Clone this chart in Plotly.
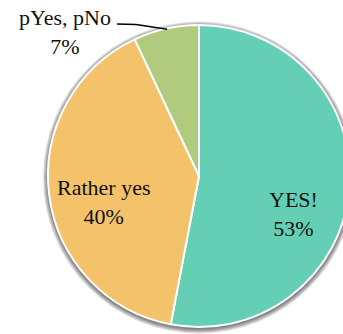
import math
import plotly.graph_objects as go

# Survey answers and their shares (%)
labels = ["YES!", "Rather yes", "pYes, pNo"]
values = [53, 40, 7]
colors = ["#65CFB6", "#F3C26A", "#B0CB7E"]

W, H = 360, 334
# pie geometry in pixels (centre and radius)
cx, cy, r = 199, 176, 151

total = sum(values)
pct = [round(v * 100 / total) for v in values]


def domain(xc, yc, rad):
    return dict(
        x=[max(0, (xc - rad) / W), min(1, (xc + rad) / W)],
        y=[max(0, 1 - (yc + rad) / H), min(1, 1 - (yc - rad) / H)],
    )


fig = go.Figure()

# soft shadow: a few translucent discs stacked under the pie
for k in range(1, 6):
    fig.add_trace(
        go.Pie(
            labels=["shadow"],
            values=[total],
            sort=False,
            textinfo="none",
            hoverinfo="skip",
            showlegend=False,
            opacity=0.12,
            marker=dict(colors=["#000000"], line=dict(width=0)),
            domain=domain(cx, cy + 1.5, r + k),
        )
    )

fig.add_trace(
    go.Pie(
        labels=labels,
        values=values,
        sort=False,
        direction="clockwise",
        rotation=0,
        textinfo="none",
        hoverinfo="label+percent",
        marker=dict(colors=colors, line=dict(color="white", width=2)),
        domain=domain(cx, cy, r),
    )
)


def px(x, y):
    return x / W, 1 - y / H


font = dict(family="Liberation Serif, Times New Roman, serif", size=22, color="#111111")

# label anchor positions (pixels)
label_pos = [(293, 214), (103, 202), (65, 32)]
for lab, p, (lx, ly) in zip(labels, pct, label_pos):
    x, y = px(lx, ly)
    fig.add_annotation(
        x=x, y=y, xref="paper", yref="paper",
        text=f"{lab}<br>{p}%", showarrow=False, font=font,
        xanchor="center", yanchor="middle", align="center",
    )

# leader line from the small slice to its label
start = sum(values[:2]) / total
mid = start + values[2] / total / 2
theta = 2 * math.pi * mid
ex = cx + r * math.sin(theta)
ey = cy - r * math.cos(theta)
p0 = px(117, 24)
p1 = px(136, 24.5)
p2 = px(ex + 1, ey + 0.5)
fig.add_shape(
    type="path", xref="paper", yref="paper",
    path=f"M {p0[0]},{p0[1]} L {p1[0]},{p1[1]} L {p2[0]},{p2[1]}",
    line=dict(color="black", width=1.5),
)

fig.update_layout(
    width=W, height=H,
    margin=dict(l=0, r=0, t=0, b=0),
    showlegend=False,
    paper_bgcolor="white",
    plot_bgcolor="white",
)

post = """
document.documentElement.style.overflow = 'hidden';
document.body.style.overflow = 'hidden';
"""

fig.write_html("out.html", post_script=post)
